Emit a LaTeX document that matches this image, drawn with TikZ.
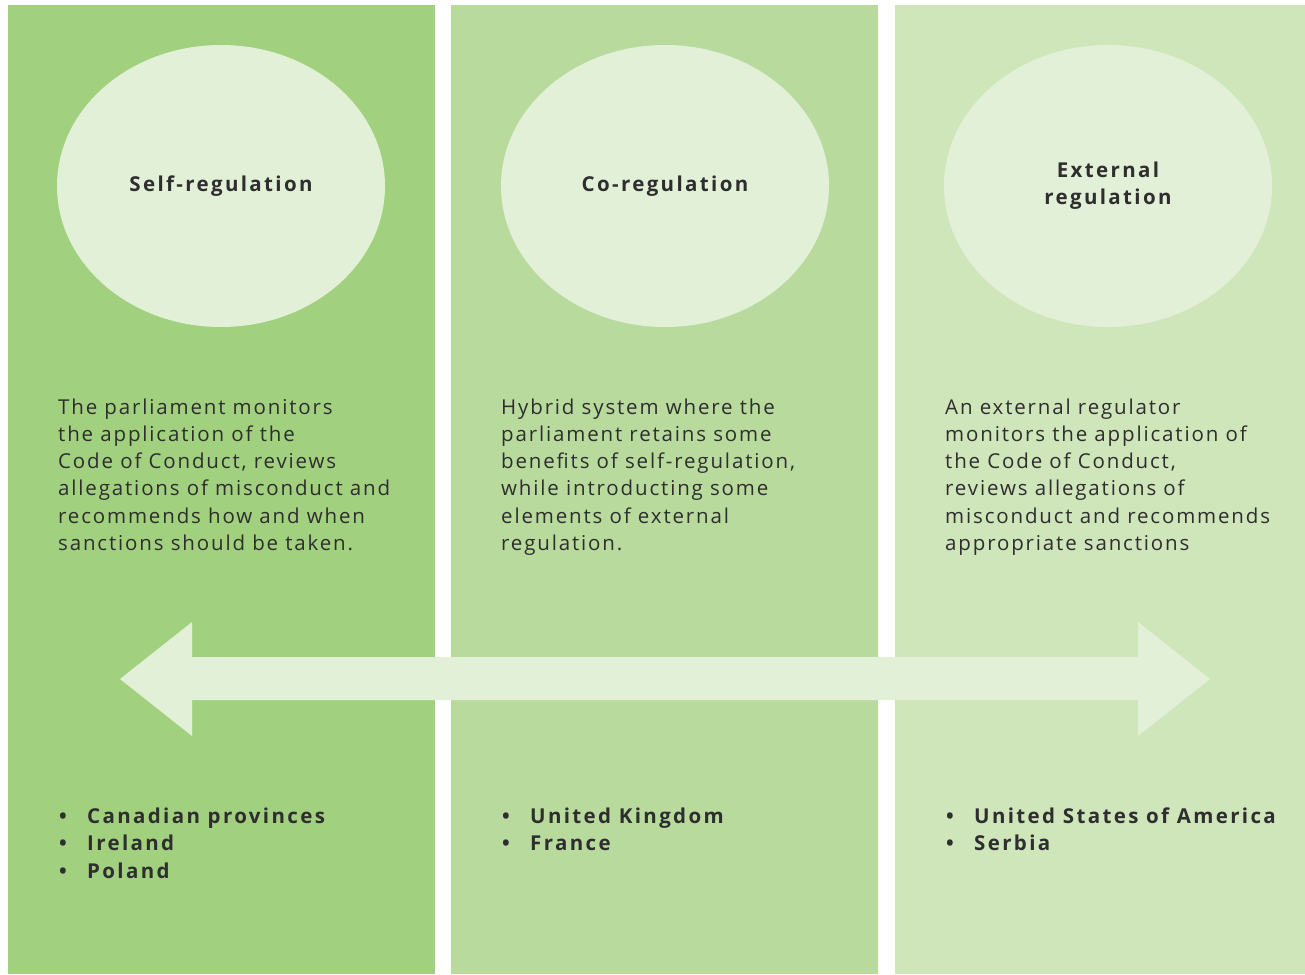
\documentclass[tikz,border=0pt]{standalone}
\usepackage{fontspec}
\setmainfont{Open Sans}[LetterSpace = 9, BoldFeatures = {LetterSpace = 11.5}]
\usetikzlibrary{positioning}
\usetikzlibrary{shapes.geometric}

\definecolor{selfgreen}{HTML}{A1D07E}
\definecolor{cogreen}{HTML}{B8DB9D}
\definecolor{extgreen}{HTML}{CFE5BA}
\definecolor{palegreen}{HTML}{E3F0D8}
\definecolor{inkgray}{HTML}{2E2E2E}

\newcommand{\bul}{\makebox[29pt][l]{\hspace{1pt}\textbullet}}

\tikzset{
  bubble/.style = {ellipse, fill = palegreen, minimum width = 328pt, minimum height = 282pt,
                   inner sep = 0pt, align = center, text = inkgray,
                   font = \fontsize{20.5}{27}\selectfont\bfseries},
  blurb/.style  = {anchor = base west, inner sep = 0pt, align = left, text = inkgray,
                   font = \fontsize{20.5}{27.3}\selectfont},
  countries/.style = {anchor = base west, inner sep = 0pt, align = left, text = inkgray,
                   font = \fontsize{20.5}{27.5}\selectfont\bfseries}
}

\begin{document}
\begin{tikzpicture}[x = 1pt, y = -1pt]
	\useasboundingbox (0, 0) rectangle (1305, 974);
	\fill [white] (0, 0) rectangle (1305, 974);
	% the three columns
	\fill [selfgreen] (8, 5) rectangle (435, 974);
	\fill [cogreen] (451, 5) rectangle (878, 974);
	\fill [extgreen] (895, 5) rectangle (1305, 974);
	% titles
	\node [bubble] (self) at (221, 186) {Self-regulation};
	\node [bubble] (co) at (665, 186) {Co-regulation};
	\node [bubble] (ext) at (1108, 186) {External\\regulation};
	% descriptions (placed by the baseline of their last line)
	\node [blurb] (selftext) at (58, 550.5) {The parliament monitors\\the application of the\\Code of Conduct, reviews\\allegations of misconduct and\\recommends how and when\\sanctions should be taken.};
	\node [blurb] (cotext) at (501, 550.5) {Hybrid system where the\\parliament retains some\\benefits of self-regulation,\\while introducting some\\elements of external\\regulation.};
	\node [blurb] (exttext) at (945, 550.5) {An external regulator\\monitors the application of\\the Code of Conduct,\\reviews allegations of\\misconduct and recommends\\appropriate sanctions};
	% the scale arrow
	\fill [palegreen] (120, 679) -- (192, 622) -- (192, 657) -- (1138, 657) -- (1138, 622)
		-- (1210, 679) -- (1138, 736) -- (1138, 700) -- (192, 700) -- (192, 736) -- cycle;
	% examples
	\node [countries] (selflist) at (58, 878) {\bul Canadian provinces\\\bul Ireland\\\bul Poland};
	\node [countries] (colist) at (501, 850.5) {\bul United Kingdom\\\bul France};
	\node [countries] (extlist) at (945, 850.5) {\bul United States of America\\\bul Serbia};
\end{tikzpicture}
\end{document}
